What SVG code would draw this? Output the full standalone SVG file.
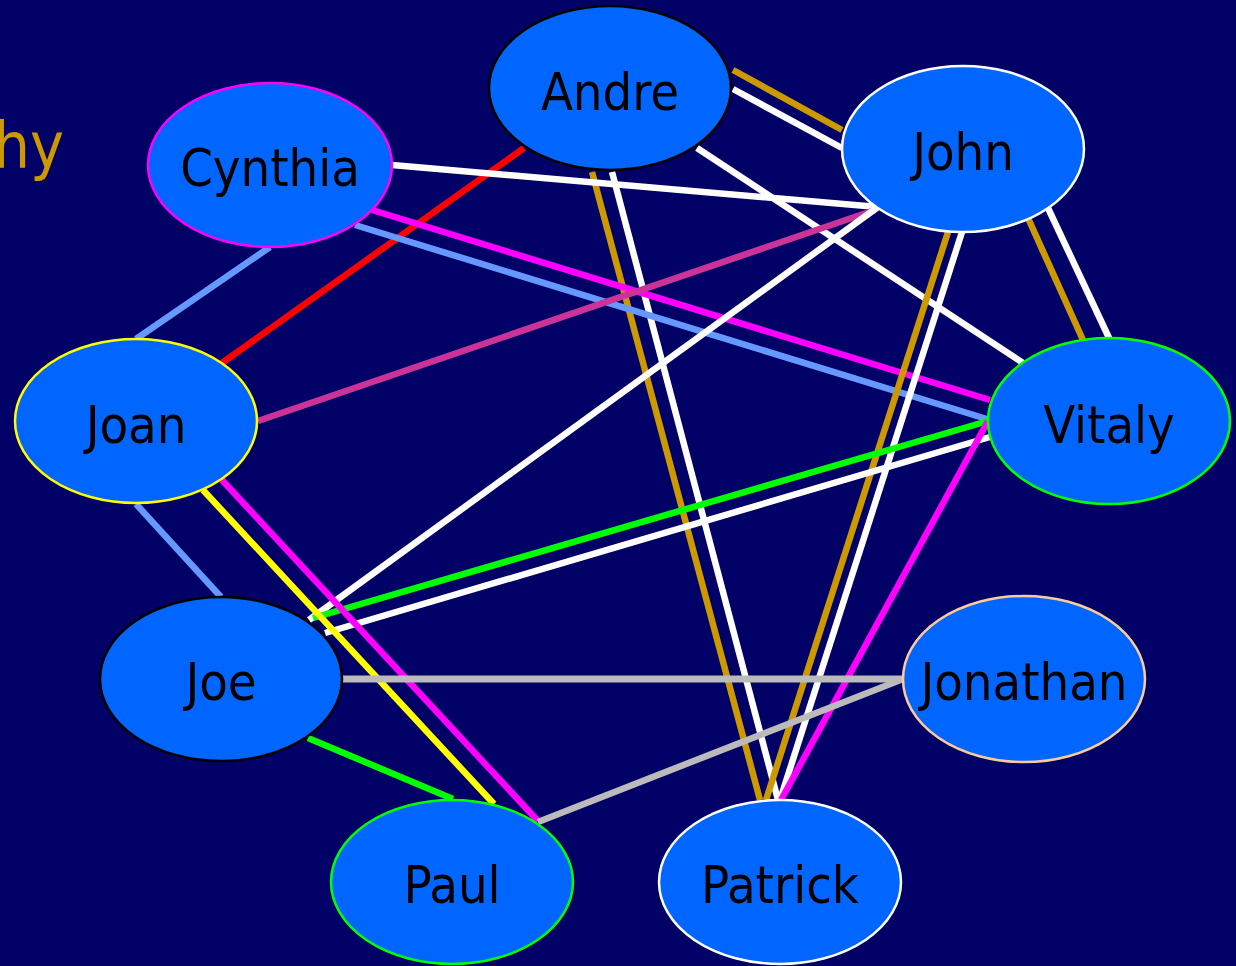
<svg xmlns="http://www.w3.org/2000/svg" width="1236" height="966" viewBox="0 0 1236 966">
<style>
.n{fill:#0066FF;stroke-width:2.5}
.t{font-family:"DejaVu Sans Condensed","DejaVu Sans",sans-serif;font-size:52px;fill:#000;text-anchor:middle}
</style>
<rect width="1236" height="966" fill="#000066"/>
<text x="64" y="168" font-family="DejaVu Sans Condensed, DejaVu Sans, sans-serif" font-size="64" fill="#CC9900" text-anchor="end">hy</text>
<g id="connectors" stroke-width="6.5" fill="none">
<line x1="733" y1="70" x2="842" y2="130" stroke="#CC9900"/>
<line x1="733" y1="89" x2="842" y2="148" stroke="#FFFFFF"/>
<line x1="697" y1="148" x2="1023" y2="363" stroke="#FFFFFF"/>
<line x1="592" y1="172" x2="760" y2="800" stroke="#CC9900"/>
<line x1="612" y1="172" x2="778" y2="800" stroke="#FFFFFF"/>
<line x1="524" y1="148" x2="222" y2="363" stroke="#FF0000"/>
<line x1="392" y1="165" x2="878" y2="207" stroke="#FFFFFF"/>
<line x1="372" y1="210" x2="990" y2="400" stroke="#FF00FF"/>
<line x1="355" y1="225" x2="990" y2="420" stroke="#6699FF"/>
<line x1="270" y1="247" x2="136" y2="339" stroke="#6699FF"/>
<line x1="258" y1="421" x2="875" y2="210" stroke="#CC3399"/>
<line x1="878" y1="207" x2="309" y2="620" stroke="#FFFFFF"/>
<line x1="948" y1="232" x2="766" y2="800" stroke="#CC9900"/>
<line x1="962" y1="232" x2="780" y2="800" stroke="#FFFFFF"/>
<line x1="1028" y1="218" x2="1083" y2="340" stroke="#CC9900"/>
<line x1="1048" y1="208" x2="1110" y2="340" stroke="#FFFFFF"/>
<line x1="988" y1="421" x2="313" y2="618" stroke="#00FF00"/>
<line x1="990" y1="437" x2="325" y2="633" stroke="#FFFFFF"/>
<line x1="988" y1="421" x2="781" y2="800" stroke="#FF00FF"/>
<line x1="136" y1="504" x2="221" y2="597" stroke="#6699FF"/>
<line x1="203" y1="490" x2="494" y2="804" stroke="#FFFF00"/>
<line x1="222" y1="480" x2="538" y2="821" stroke="#FF00FF"/>
<line x1="343" y1="679" x2="903" y2="679" stroke="#BBBBBB" stroke-width="7"/>
<line x1="308" y1="738" x2="453" y2="799" stroke="#00FF00"/>
<line x1="903" y1="679" x2="538" y2="822" stroke="#BBBBBB"/>
</g>
<g id="andre"><ellipse class="n" cx="610" cy="88" rx="121" ry="82" stroke="#000000"/><text class="t" x="610" y="110">Andre</text></g>
<g id="cynthia"><ellipse class="n" cx="270" cy="165" rx="122" ry="82" stroke="#FF00FF"/><text class="t" x="270" y="186">Cynthia</text></g>
<g id="john"><ellipse class="n" cx="963" cy="149" rx="121" ry="83" stroke="#FFFFFF"/><text class="t" x="963" y="170">John</text></g>
<g id="joan"><ellipse class="n" cx="136" cy="421" rx="121" ry="82" stroke="#FFFF00"/><text class="t" x="136" y="443">Joan</text></g>
<g id="vitaly"><ellipse class="n" cx="1109" cy="421" rx="121" ry="83" stroke="#00FF00"/><text class="t" x="1109" y="443">Vitaly</text></g>
<g id="joe"><ellipse class="n" cx="221" cy="679" rx="121" ry="82" stroke="#000000"/><text class="t" x="221" y="700">Joe</text></g>
<g id="jonathan"><ellipse class="n" cx="1024" cy="679" rx="121" ry="83" stroke="#FFCC99"/><text class="t" x="1024" y="700">Jonathan</text></g>
<g id="paul"><ellipse class="n" cx="452" cy="882" rx="121" ry="82" stroke="#00FF00"/><text class="t" x="452" y="903">Paul</text></g>
<g id="patrick"><ellipse class="n" cx="780" cy="882" rx="121" ry="82" stroke="#FFFFFF"/><text class="t" x="780" y="903">Patrick</text></g>
</svg>
